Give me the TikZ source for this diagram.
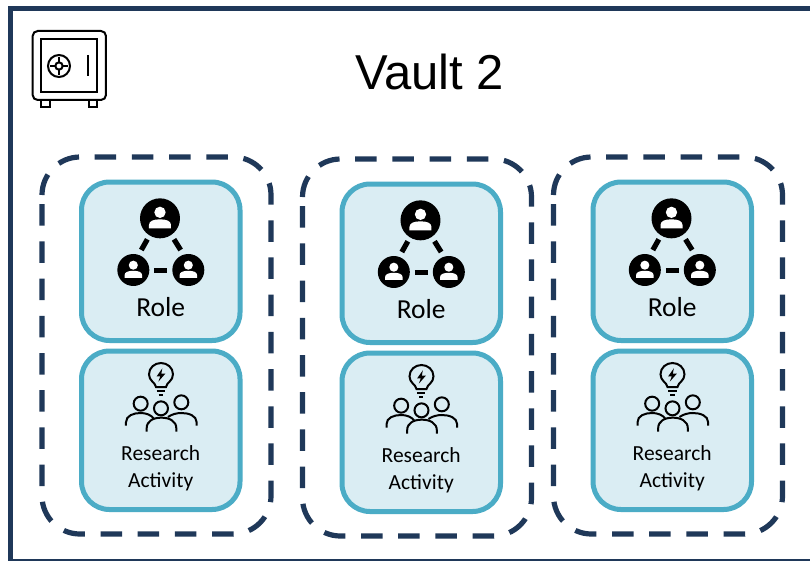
\documentclass[tikz,border=0pt]{standalone}
\usepackage{fontspec}
\setmainfont{Carlito}
\newfontfamily\arialfont{Liberation Sans}
\definecolor{navy}{HTML}{1F3859}
\definecolor{teal}{HTML}{4BACC6}
\definecolor{pale}{HTML}{DAEDF3}
\tikzset{
  framebox/.style={draw=navy,line width=5pt},
  groupbox/.style={draw=navy,line width=5.2pt,rounded corners=38pt,dash pattern=on 21.5pt off 15.7pt},
  card/.style={draw=teal,fill=pale,line width=5pt,rounded corners=28pt},
  icon/.style={draw=black,line width=2pt,fill=none},
  link/.style={draw=black,line width=5.2pt},
  rolelabel/.style={font=\fontsize{27.5}{30}\selectfont,text=black,inner sep=0pt},
  activitylabel/.style={font=\fontsize{21.5}{27}\selectfont,text=black,inner sep=0pt,align=center},
  titlelabel/.style={font=\arialfont\fontsize{49}{52}\selectfont,text=black,inner sep=0pt}
}
\newcommand{\persondisc}[3]{% x, y, scale (drawn in zoom units)
  \fill[black] (#1,#2) circle ({#3*60});
  \fill[white] (#1,{#2-18*#3}) circle ({#3*17});
  \fill[white] ({#1-33*#3},{#2+30*#3}) -- ({#1-33*#3},{#2+20*#3}) .. controls ({#1-33*#3},{#2+8*#3}) and ({#1-20*#3},{#2+3*#3}) .. ({#1},{#2+3*#3}) .. controls ({#1+20*#3},{#2+3*#3}) and ({#1+33*#3},{#2+8*#3}) .. ({#1+33*#3},{#2+20*#3}) -- ({#1+33*#3},{#2+30*#3}) -- cycle;
}
\begin{document}
\begin{tikzpicture}[x=1pt,y=-1pt]
\useasboundingbox (0,0) rectangle (810,560);
\fill[white] (0,0) rectangle (810,560);
\draw[framebox] (10.2,8) rectangle (816,561.5);
% safe icon
\begin{scope}[x=0.3333pt,y=-0.3333pt]
  \draw[icon,rounded corners=5pt] (98,93) rectangle (318,300);
  \draw[icon] (124,117) rectangle (292,277);
  \draw[icon] (177,198) circle (33);
  \draw[icon] (177,198) circle (11);
  \draw[icon] (177,172) -- (177,186) (177,210) -- (177,224) (151,198) -- (165,198) (189,198) -- (203,198);
  \draw[icon] (264,165) -- (264,228);
  \draw[icon] (124,300) -- (124,320) -- (150,320) -- (150,300);
  \draw[icon] (266,300) -- (266,320) -- (292,320) -- (292,300);
\end{scope}
\node[titlelabel] (title) at (429.5,72) {Vault 2};
\foreach \n/\dx/\dy in {1/0/0,2/260.5/2,3/511.5/0}{
\begin{scope}[shift={(\dx,\dy)}]
  \draw[groupbox] (42,195) -- (42,157) -- (271,157) -- (271,534) -- (42,534) -- (42,195);
  \draw[card] (81.5,182) rectangle (240,340.5);
  \draw[card] (81.5,351) rectangle (240,509.5);
  \node[rolelabel] (role\n) at (160.7,307.5) {Role};
  \node[activitylabel] (act\n) at (160.7,468.5) {Research\\Activity};
  % role icon, in zoom coordinates
  \begin{scope}[shift={(70,175)},x=0.3333pt,y=-0.3333pt]
    \persondisc{270}{130}{1}
    \persondisc{190}{285}{0.8}
    \persondisc{355}{285}{0.8}
    \draw[link] (214,225) -- (232,193);
    \draw[link] (332,225) -- (312,193);
    \draw[link] (253,286) -- (292,286);
  \end{scope}
  % activity icon, in zoom coordinates
  \begin{scope}[shift={(70,345)},x=0.3333pt,y=-0.3333pt]
    \draw[icon] (258,126) .. controls (256,112) and (237,108) .. (237,88) .. controls (237,68) and (254,54) .. (273,54) .. controls (292,54) and (309,68) .. (309,88) .. controls (309,108) and (290,112) .. (288,126) -- cycle;
    \fill[black] (277,70) -- (260,94) -- (271,94) -- (265,110) -- (286,86) -- (274,86) -- cycle;
    \draw[icon] (260,139) -- (285,139);
    \draw[icon,line width=1.6pt] (266,150) -- (279,150);
    \draw[icon] (212,176) circle (21);
    \draw[icon] (334,172) circle (21);
    \draw[icon] (273,190) circle (21);
    \draw[icon] (168,242) -- (168,232) .. controls (168,212) and (190,204) .. (212,204) .. controls (228,204) and (245,210) .. (252,222);
    \draw[icon] (380,242) -- (380,232) .. controls (380,212) and (356,204) .. (334,204) .. controls (320,204) and (305,208) .. (294,216);
    \draw[icon] (230,260) -- (230,250) .. controls (230,228) and (250,218) .. (274,218) .. controls (298,218) and (319,228) .. (319,250) -- (319,260);
  \end{scope}
\end{scope}
}
\end{tikzpicture}
\end{document}
